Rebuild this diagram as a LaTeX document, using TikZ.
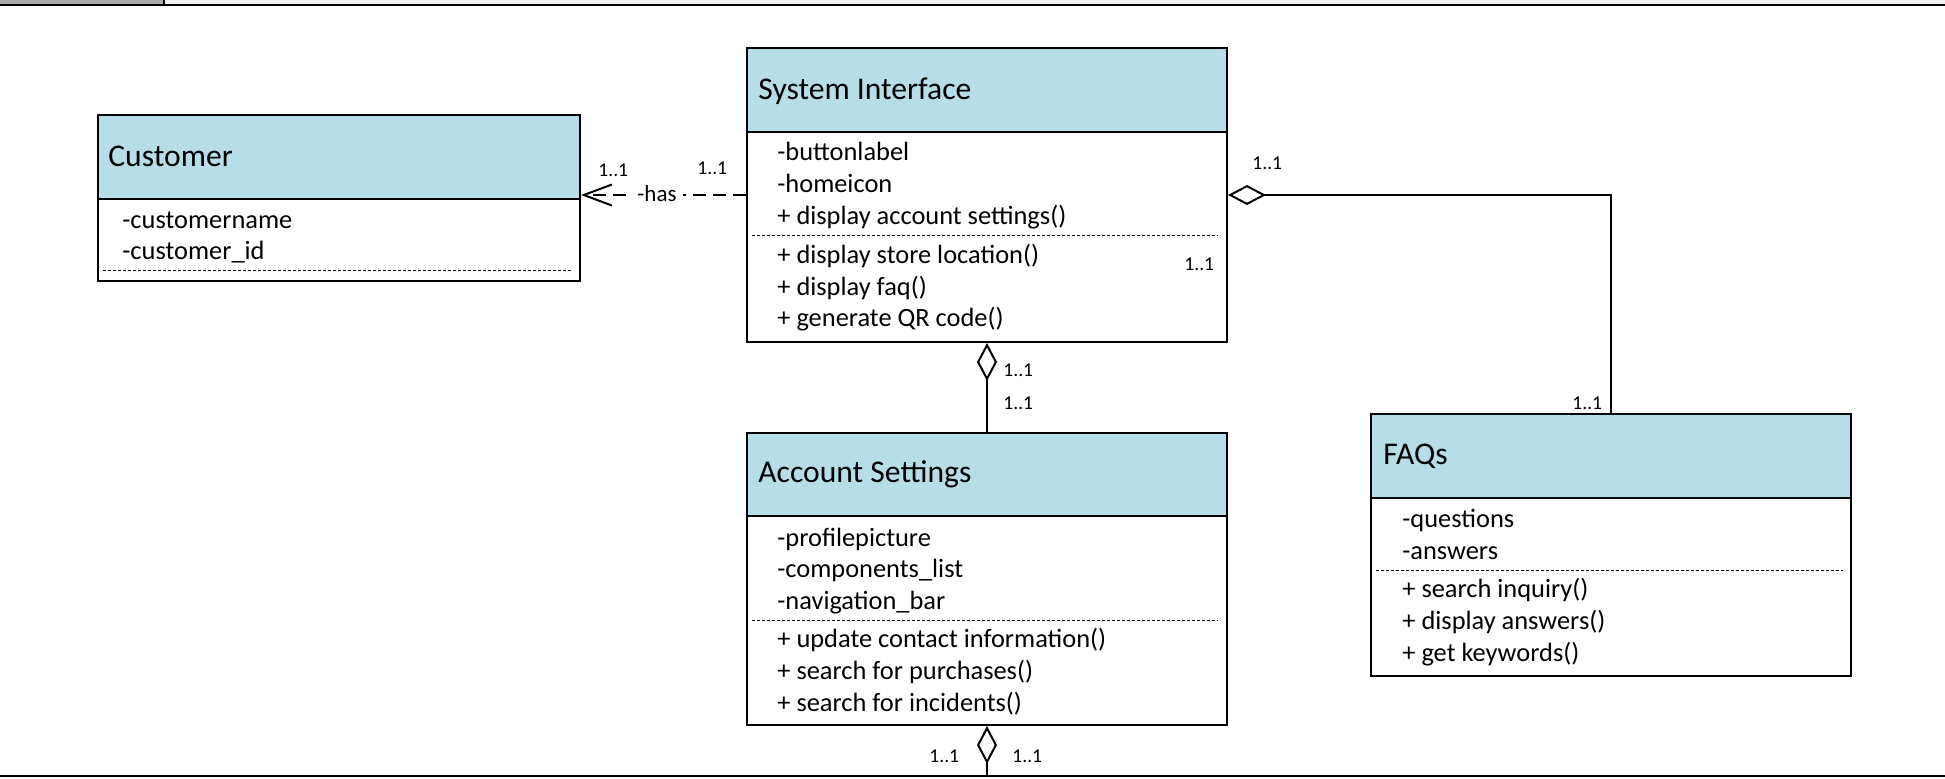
\documentclass[tikz,border=0pt]{standalone}
\usepackage{fontspec}
\setmainfont{Carlito}
\usetikzlibrary{arrows.meta,calc}
\definecolor{hdrblue}{RGB}{183,221,232}
\definecolor{topgray}{RGB}{168,168,168}
\definecolor{toplight}{RGB}{240,240,240}
\tikzset{
  classbox/.style={draw=black, line width=1pt, fill=white, inner sep=0pt, anchor=north west},
  hdrbox/.style={draw=black, line width=1pt, fill=hdrblue, inner sep=0pt, anchor=north west},
  ttl/.style={anchor=base west, inner sep=0pt, font=\fontsize{15.8}{18}\selectfont},
  attr/.style={anchor=base west, inner sep=0pt, font=\fontsize{13.2}{15}\selectfont},
  mult/.style={anchor=base west, inner sep=0pt, font=\fontsize{9.8}{11}\selectfont},
  sep/.style={line width=0.5pt, dash pattern=on 1.5pt off 1pt},
  conn/.style={line width=1pt},
  agg/.style={conn, {Diamond[open, length=19pt, width=10pt, line width=1pt]}-},
}
\begin{document}
\begin{tikzpicture}[x=0.5pt, y=-0.5pt]
\useasboundingbox (0,0) rectangle (1945,778);
% top bar
\fill[topgray] (0,0) rectangle (163,4.5);
\fill[toplight] (163,0) rectangle (1945,4.5);
\draw[line width=1pt] (0,5) -- (1945,5);
\draw[line width=1pt] (164,0) -- (164,5);
% bottom line
\coordinate (bl) at (0,775.5);
\coordinate (br) at (1945,775.5);
\fill[toplight] (0,776.5) rectangle (1945,778);
\draw[line width=1pt] (bl) -- (br);

% ---------- Customer ----------
\node[classbox, minimum width=241pt, minimum height=83pt] (cust) at (97,114) {};
\node[hdrbox, minimum width=241pt, minimum height=42pt] (cust-h) at (97,114) {};
\node[ttl] (cust-t) at (108,166) {Customer};
\node[attr] (cust-a1) at (122,228.3) {-customername};
\node[attr] (cust-a2) at (122,259.3) {-customer\_id};
\draw[sep] (103,270.7) -- (572,270.7);

% ---------- System Interface ----------
\node[classbox, minimum width=240pt, minimum height=147pt] (si) at (746,47) {};
\node[hdrbox, minimum width=240pt, minimum height=42pt] (si-h) at (746,47) {};
\node[ttl] (si-t) at (758,99.3) {System Interface};
\node[attr] (si-a1) at (777,160.7) {-buttonlabel};
\node[attr] (si-a2) at (777,192.4) {-homeicon};
\node[attr] (si-a3) at (777,224.1) {+ display account settings()};
\draw[sep] (752,235.7) -- (1218,235.7);
\node[attr] (si-m1) at (777,263.3) {+ display store location()};
\node[attr] (si-m2) at (777,295) {+ display faq()};
\node[attr] (si-m3) at (777,326.7) {+ generate QR code()};

% ---------- Account Settings ----------
\node[classbox, minimum width=240pt, minimum height=146pt] (as) at (746,432) {};
\node[hdrbox, minimum width=240pt, minimum height=41.5pt] (as-h) at (746,432) {};
\node[ttl] (as-t) at (758,482.7) {Account Settings};
\node[attr] (as-a1) at (777,546) {-profilepicture};
\node[attr] (as-a2) at (777,577.7) {-components\_list};
\node[attr] (as-a3) at (777,609.3) {-navigation\_bar};
\draw[sep] (752,620) -- (1218,620);
\node[attr] (as-m1) at (777,647.7) {+ update contact information()};
\node[attr] (as-m2) at (777,679.3) {+ search for purchases()};
\node[attr] (as-m3) at (777,711) {+ search for incidents()};

% ---------- FAQs ----------
\node[classbox, minimum width=240pt, minimum height=131pt] (faq) at (1370,413) {};
\node[hdrbox, minimum width=240pt, minimum height=42pt] (faq-h) at (1370,413) {};
\node[ttl] (faq-t) at (1383,464) {FAQs};
\node[attr] (faq-a1) at (1402,527.7) {-questions};
\node[attr] (faq-a2) at (1402,559.3) {-answers};
\draw[sep] (1376,570) -- (1843,570);
\node[attr] (faq-m1) at (1402,597.7) {+ search inquiry()};
\node[attr] (faq-m2) at (1402,629.3) {+ display answers()};
\node[attr] (faq-m3) at (1402,661) {+ get keywords()};

% ---------- connectors ----------
% has (dependency)
\draw[conn, dash pattern=on 6.5pt off 3.5pt, -{Straight Barb[length=14pt, width=10.5pt, line width=1pt]}]
  (si.west) -- (si.west -| cust.east);
\node[fill=white, inner xsep=3pt, inner ysep=1pt, anchor=base, font=\fontsize{11.5}{13}\selectfont] (has) at (657,201.5) {-has};
\node[mult] (m1) at (598,176) {1..1};
\node[mult] (m2) at (697,174) {1..1};

% SI -> FAQs aggregation
\draw[agg] (si.east) -| (faq.north);
\node[mult] (m3) at (1252,169) {1..1};
\node[mult] (m4) at (1184,270.7) {1..1};
\node[mult, fill=white, inner sep=0.5pt] (m5) at (1571,409.3) {1..1};

% SI -> Account Settings aggregation
\draw[agg] (si.south) -- (as.north);
\node[mult] (m6) at (1003,376) {1..1};
\node[mult] (m7) at (1003,409.3) {1..1};

% Account Settings -> bottom
\draw[agg] (as.south) -- (as.south |- bl);
\node[mult] (m8) at (929,762.7) {1..1};
\node[mult] (m9) at (1012,762.7) {1..1};
\end{tikzpicture}
\end{document}
